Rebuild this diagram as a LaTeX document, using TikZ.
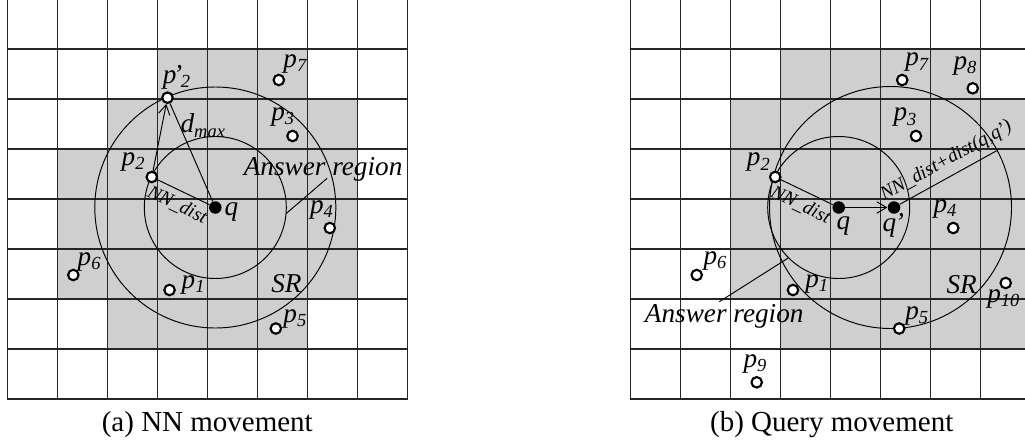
\documentclass[tikz,border=0pt]{standalone}
\usepackage{fontspec}
\setmainfont{Liberation Serif}
\usetikzlibrary{arrows.meta,calc}

% text sizes
\newcommand{\lbsz}{\fontsize{15.5}{16}\selectfont}
\newcommand{\subsz}{\fontsize{10.5}{11}\selectfont}
\newcommand{\idx}[1]{\raisebox{-0.35ex}{\subsz\itshape #1}}
\newcommand{\pnt}[1]{\textit{p}\idx{#1}}

\tikzset{
  cellfill/.style={fill=black!19},
  gridline/.style={draw=black!85, line width=0.6pt, line cap=rect},
  ring/.style={draw=black, line width=0.55pt},
  obj/.style={circle, draw=black, fill=white, line width=1.2pt, minimum size=0.21cm, inner sep=0pt},
  qry/.style={circle, fill=black, minimum size=0.25cm, inner sep=0pt},
  lbl/.style={font=\lbsz\itshape, inner sep=0pt},
  small/.style={font=\fontsize{11}{12}\selectfont\itshape},
  conn/.style={draw=black, line width=0.55pt},
  arr/.style={conn, -{Straight Barb[length=5.5pt,width=6.5pt]}},
  caption/.style={font=\fontsize{16.5}{18}\selectfont, anchor=base, inner sep=0pt},
}

\begin{document}
\begin{tikzpicture}
\useasboundingbox (0,0) rectangle (20.5,-8.86);
\clip (0,0) rectangle (20.5,-8.86);

% ---------------- (a) NN movement ----------------
\begin{scope}[shift={(0.146,0.02)}]
  % search region cells
  \fill[cellfill] (3,-1) rectangle (6,-2);
  \fill[cellfill] (2,-2) rectangle (7,-3);
  \fill[cellfill] (1,-3) rectangle (7,-6);
  \fill[cellfill] (2,-6) rectangle (6,-7);
  % grid
  \foreach \i in {0,...,8} {
    \draw[gridline] (\i,0) -- (\i,-8);
    \draw[gridline] (0,-\i) -- (8,-\i);
  }
  % query point and its circles
  \coordinate (aqc) at (4.16,-4.17);
  \draw[ring] (aqc) circle[radius=1.42];
  \draw[ring] (aqc) circle[radius=2.41];

  \node[qry] (aq)   at (aqc) {};
  \node[obj] (ap2)  at (2.89,-3.56) {};
  \node[obj] (ap2m) at (3.204,-1.974) {};
  \node[obj] (ap7)  at (5.43,-1.62) {};
  \node[obj] (ap3)  at (5.705,-2.74) {};
  \node[obj] (ap4)  at (6.45,-4.58) {};
  \node[obj] (ap6)  at (1.32,-5.52) {};
  \node[obj] (ap1)  at (3.245,-5.82) {};
  \node[obj] (ap5)  at (5.37,-6.59) {};

  % distances
  \draw[conn] (ap2) -- node[small, sloped, below] {NN\_dist} (aq);
  \draw[conn] (aq) -- (ap2m);
  \draw[arr] (ap2) -- (ap2m);

  % answer region pointer
  \node[lbl, anchor=base] (aans) at (6.316,-3.534) {Answer region};
  \coordinate (aa1) at ($(aqc)+(-5:1.42)$);
  \coordinate (aa2) at (6.396,-3.586);
  \draw[conn] (aa1) -- (aa2);

  % labels
  \node[lbl] (laq)   at (4.484,-4.26) {q};
  \node[lbl] (lap2)  at (2.516,-3.26) {\pnt{2}};
  \node[lbl] (lap2m) at (3.384,-1.56) {\textit{p\kern-0.12em'}\kern-0.05em\idx{2}};
  \node[lbl] (lap7)  at (5.75,-1.3) {\pnt{7}};
  \node[lbl] (lap3)  at (5.51,-2.36) {\pnt{3}};
  \node[lbl] (lap4)  at (6.284,-4.214) {\pnt{4}};
  \node[lbl] (lap6)  at (1.636,-5.26) {\pnt{6}};
  \node[lbl] (lap1)  at (3.716,-5.72) {\pnt{1}};
  \node[lbl] (lap5)  at (5.75,-6.4) {\pnt{5}};
  \node[lbl] (lasr)  at (5.584,-5.7) {SR};
  \node[lbl] (ladm)  at (3.91,-2.534) {\textit{d}\idx{max}};

  \node[caption] (acap) at (4.0,-8.64) {(a) NN movement};
\end{scope}

% ---------------- (b) Query movement ----------------
\begin{scope}[shift={(12.614,0.02)}]
  % search region cells
  \fill[cellfill] (3,-1) rectangle (7,-2);
  \fill[cellfill] (2,-2) rectangle (8,-6);
  \fill[cellfill] (3,-6) rectangle (8,-7);
  % grid
  \foreach \i in {0,...,8} {
    \draw[gridline] (\i,0) -- (\i,-8);
    \draw[gridline] (0,-\i) -- (8,-\i);
  }
  % old and new query positions with their circles
  \coordinate (bqc)  at (4.16,-4.17);
  \coordinate (bqqc) at (5.266,-4.17);
  \coordinate (boc)  at (5.196,-4.17);
  \draw[ring] (bqc) circle[radius=1.42];
  \draw[ring] (boc) circle[radius=2.42];

  \node[qry] (bq)   at (bqc) {};
  \node[qry] (bqq)  at (bqqc) {};
  \node[obj] (bp2)  at (2.89,-3.56) {};
  \node[obj] (bp7)  at (5.43,-1.62) {};
  \node[obj] (bp8)  at (6.84,-1.786) {};
  \node[obj] (bp3)  at (5.705,-2.74) {};
  \node[obj] (bp4)  at (6.45,-4.58) {};
  \node[obj] (bp6)  at (1.32,-5.52) {};
  \node[obj] (bp1)  at (3.245,-5.82) {};
  \node[obj] (bp5)  at (5.37,-6.59) {};
  \node[obj] (bp10) at (7.5,-5.68) {};
  \node[obj] (bp9)  at (2.52,-7.666) {};

  % distances
  \draw[conn] (bp2) -- node[small, sloped, below] {NN\_dist} (bq);
  \draw[arr] (bq) -- (bqq);
  \coordinate (be) at (7.32,-3.034);
  \draw[conn] (bqq) -- node[small, sloped, above, pos=0.555] {NN\_dist+dist(q,q\kern-0.05em')} (be);

  % answer region pointer
  \node[lbl, anchor=base] (bans) at (1.87,-6.466) {Answer region};
  \coordinate (bb1) at ($(bqc)+(225:1.43)$);
  \coordinate (bb2) at (1.772,-6.054);
  \draw[conn] (bb1) -- (bb2);

  % labels
  \node[lbl] (lbq)   at (4.252,-4.534) {q};
  \node[lbl] (lbqq)  at (5.252,-4.534) {q\kern-0.05em'};
  \node[lbl] (lbp2)  at (2.552,-3.266) {\pnt{2}};
  \node[lbl] (lbp7)  at (5.72,-1.266) {\pnt{7}};
  \node[lbl] (lbp8)  at (6.686,-1.334) {\pnt{8}};
  \node[lbl] (lbp3)  at (5.486,-2.366) {\pnt{3}};
  \node[lbl] (lbp4)  at (6.286,-4.2) {\pnt{4}};
  \node[lbl] (lbp6)  at (1.686,-5.234) {\pnt{6}};
  \node[lbl] (lbp1)  at (3.72,-5.7) {\pnt{1}};
  \node[lbl] (lbp5)  at (5.72,-6.334) {\pnt{5}};
  \node[lbl] (lbp10) at (7.452,-6.0) {\pnt{10}};
  \node[lbl] (lbp9)  at (2.486,-7.3) {\pnt{9}};
  \node[lbl] (lbsr)  at (6.62,-5.72) {SR};

  \node[caption] (bcap) at (4.02,-8.64) {(b) Query movement};
\end{scope}
\end{tikzpicture}
\end{document}
